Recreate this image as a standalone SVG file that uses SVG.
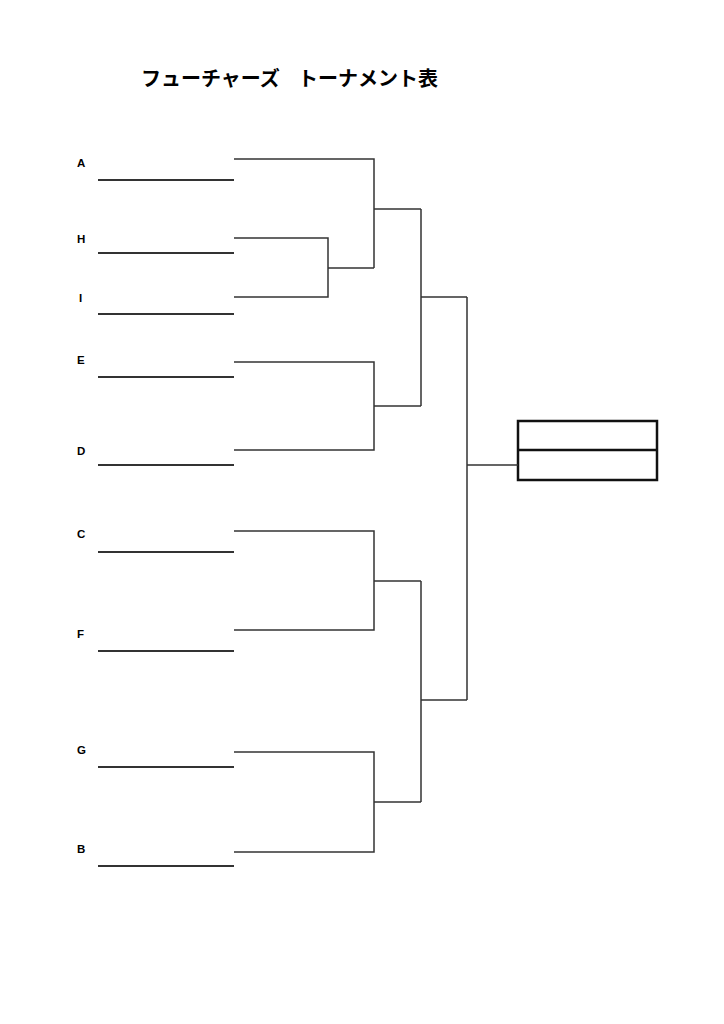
<svg xmlns="http://www.w3.org/2000/svg" width="724" height="1024" viewBox="0 0 724 1024">
<style>
.t{font-family:"Noto Sans CJK JP","Noto Sans",sans-serif;font-weight:bold;font-size:20px;fill:#000}
.l{font-family:"Liberation Sans",Arial,sans-serif;font-weight:bold;font-size:11.5px;fill:#000}
.n{stroke:#333;stroke-width:2;fill:none}
.c{stroke:#333;stroke-width:1.5;fill:none}
.b{stroke:#111;stroke-width:2.5;fill:#fff}
</style>
<rect width="724" height="1024" fill="#fff"/>
<g id="title"><text class="t" x="141" y="86">フューチャーズ</text><text class="t" x="298" y="86">トーナメント表</text></g>
<g id="A"><text class="l" x="77" y="167">A</text><line class="n" x1="98" y1="180" x2="234" y2="180"/></g>
<g id="H"><text class="l" x="77" y="243">H</text><line class="n" x1="98" y1="253" x2="234" y2="253"/></g>
<g id="I"><text class="l" x="79" y="302">I</text><line class="n" x1="98" y1="314" x2="234" y2="314"/></g>
<g id="E"><text class="l" x="77" y="364">E</text><line class="n" x1="98" y1="377" x2="234" y2="377"/></g>
<g id="D"><text class="l" x="77" y="455">D</text><line class="n" x1="98" y1="465" x2="234" y2="465"/></g>
<g id="C"><text class="l" x="77" y="538">C</text><line class="n" x1="98" y1="552" x2="234" y2="552"/></g>
<g id="F"><text class="l" x="77" y="638">F</text><line class="n" x1="98" y1="651" x2="234" y2="651"/></g>
<g id="G"><text class="l" x="77" y="754">G</text><line class="n" x1="98" y1="767" x2="234" y2="767"/></g>
<g id="B"><text class="l" x="77" y="853">B</text><line class="n" x1="98" y1="866" x2="234" y2="866"/></g>
<g id="winner"><rect class="b" x="518" y="421" width="139" height="59"/><line class="b" x1="518" y1="450" x2="657" y2="450"/></g>
<g id="connectors">
<path class="c" d="M234 238H328V297H234M328 268H374"/>
<path class="c" d="M234 159H374V268M374 209H421"/>
<path class="c" d="M234 362H374V450H234M374 406H421"/>
<path class="c" d="M421 209V406M421 297H467"/>
<path class="c" d="M234 531H374V630H234M374 581H421"/>
<path class="c" d="M234 752H374V852H234M374 802H421"/>
<path class="c" d="M421 581V802M421 700H467"/>
<path class="c" d="M467 297V700M467 465H518"/>
</g>
</svg>
